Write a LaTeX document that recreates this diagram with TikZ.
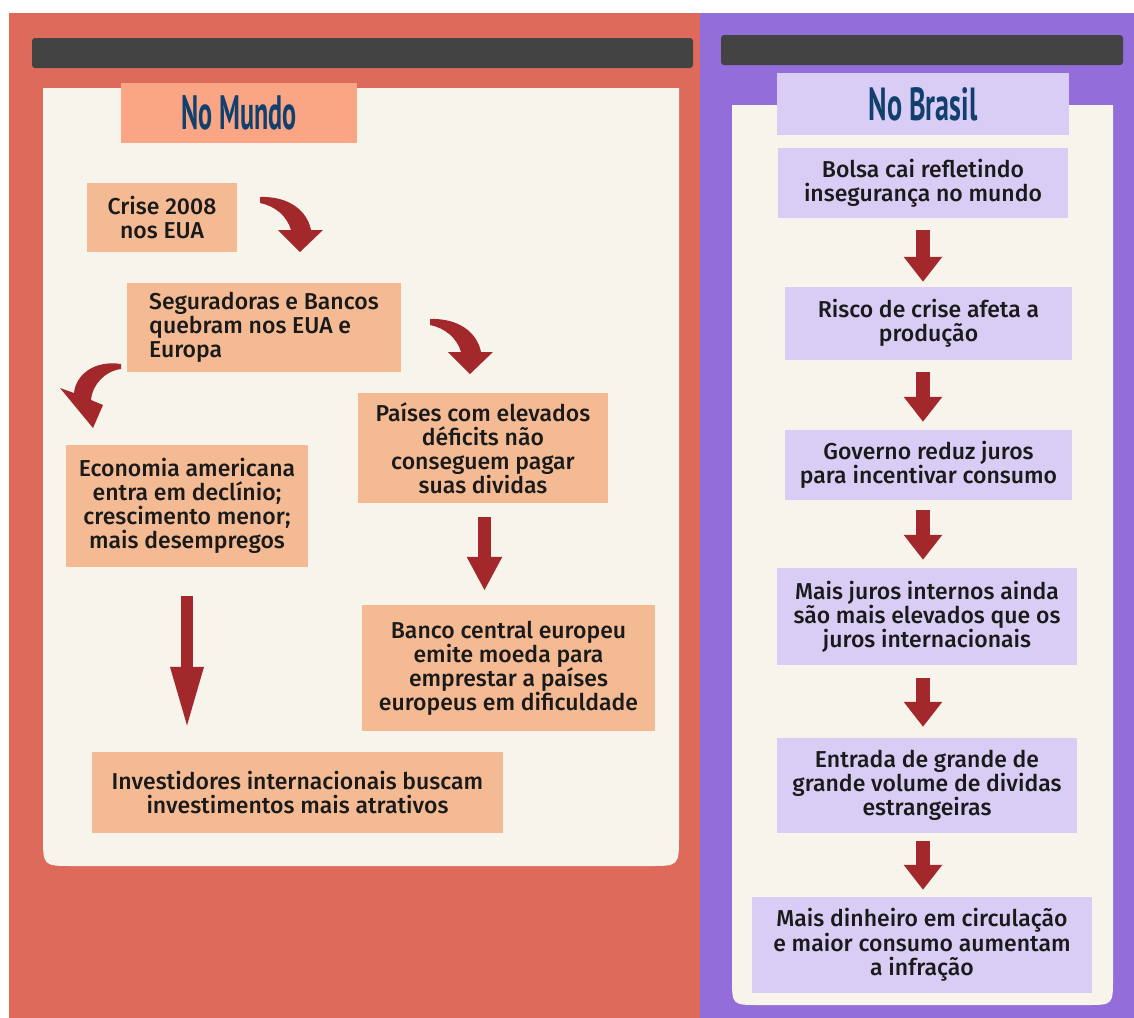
\documentclass[tikz,border=0pt]{standalone}
\usepackage{fontspec}
\usepackage{graphicx}
\setmainfont{Fira Sans}[UprightFont={* Medium}]
\newfontfamily\titlefont{PT Sans Bold}
\usetikzlibrary{arrows.meta}
\definecolor{redpanel}{HTML}{DE6A5C}
\definecolor{purplepanel}{HTML}{936EDA}
\definecolor{darkbar}{HTML}{434343}
\definecolor{cream}{HTML}{F7F4EC}
\definecolor{salmon}{HTML}{FAA685}
\definecolor{peach}{HTML}{F4BA93}
\definecolor{lav}{HTML}{DACDF5}
\definecolor{arrowred}{HTML}{A2282B}
\definecolor{navy}{HTML}{11406E}
\definecolor{textc}{HTML}{1A1A1A}
\newcommand{\bodyfont}{\fontsize{23bp}{24bp}\selectfont}
\tikzset{
  box/.style={rectangle, inner sep=0pt, align=center, font=\bodyfont, text=textc},
  lbox/.style={box, fill=peach},
  rbox/.style={box, fill=lav},
  flowarrow/.style={line width=14bp, draw=arrowred, -{Triangle[width=37bp,length=25bp]}},
  longarrow/.style={line width=12bp, draw=arrowred, -{Triangle[width=30bp,length=63bp]}},
  midarrow/.style={line width=13bp, draw=arrowred, -{Triangle[width=33bp,length=34bp]}},
  pics/curvearrow/.style={code={
    \fill[arrowred] (0,-3) .. controls (28,-4) and (47,10) .. (51,30) -- (63,30) -- (40,52) -- (18,30) -- (31,30) .. controls (27,16) and (15,6) .. (0,3) -- cycle;
  }}
}
\begin{document}
\begin{tikzpicture}[x=1bp,y=-1bp]
\useasboundingbox (0,0) rectangle (1134,1018);
\fill[white] (0,0) rectangle (1134,1018);
% panels
\fill[redpanel] (9,13) rectangle (700,1018);
\fill[purplepanel] (700,13) rectangle (1134,1018);
\fill[darkbar, rounded corners=3bp] (32,38) rectangle (693,68);
\fill[darkbar, rounded corners=3bp] (721,35) rectangle (1123,65);
\fill[cream] (43,88) -- (43,836) .. controls (43,866) .. (73,866) -- (649,866) .. controls (679,866) .. (679,836) -- (679,88) -- cycle;
\fill[cream] (732,105) -- (732,978) .. controls (732,1005) .. (759,1005) -- (1086,1005) .. controls (1113,1005) .. (1113,978) -- (1113,105) -- cycle;
% titles
\node[rectangle, fill=salmon, minimum width=236bp, minimum height=60bp, inner sep=0pt, text=navy] (tmundo) at (239,113) {\resizebox{115bp}{34bp}{\titlefont No Mundo}};
\node[rectangle, fill=lav, minimum width=292bp, minimum height=62bp, inner sep=0pt, text=navy] (tbrasil) at (923,104) {\resizebox{109bp}{33bp}{\titlefont No Brasil}};
% left boxes
\node[lbox, minimum width=150bp, minimum height=69bp] (crise) at (162,217.5) {Crise 2008\\nos EUA};
\node[lbox, minimum width=274bp, minimum height=89bp, align=left] (segur) at (264,327.5) {Seguradoras e Bancos\\quebram nos EUA e\\Europa};
\node[lbox, minimum width=242bp, minimum height=122bp] (econ) at (187,506) {Economia americana\\entra em declínio;\\crescimento menor;\\mais desempregos};
\node[lbox, minimum width=250bp, minimum height=110bp] (paises) at (483,448) {Países com elevados\\déficits não\\conseguem pagar\\suas dividas};
\node[lbox, minimum width=293bp, minimum height=126bp] (banco) at (508.5,668) {Banco central europeu\\emite moeda para\\emprestar a países\\europeus em dificuldade};
\node[lbox, minimum width=411bp, minimum height=81bp] (invest) at (297.5,792.5) {Investidores internacionais buscam\\investimentos mais atrativos};
% right boxes
\node[rbox, minimum width=290bp, minimum height=70bp] (b1) at (923,183) {Bolsa cai refletindo\\insegurança no mundo};
\node[rbox, minimum width=287bp, minimum height=73bp] (b2) at (928.5,323.5) {Risco de crise afeta a\\produção};
\node[rbox, minimum width=287bp, minimum height=70bp] (b3) at (928.5,465) {Governo reduz juros\\para incentivar consumo};
\node[rbox, minimum width=300bp, minimum height=97bp] (b4) at (927,616.5) {Mais juros internos ainda\\são mais elevados que os\\juros internacionais};
\node[rbox, minimum width=300bp, minimum height=95bp] (b5) at (927,785.5) {Entrada de grande de\\grande volume de dividas\\estrangeiras};
\node[rbox, minimum width=340bp, minimum height=96bp] (b6) at (922,945) {Mais dinheiro em circulação\\e maior consumo aumentam\\a infração};
% right arrows
\draw[flowarrow] ([yshift=-12bp]b1.south) -- ([yshift=5bp]b1.south |- b2.north);
\draw[flowarrow] ([yshift=-12bp]b2.south -| b1.south) -- ([yshift=8bp]b1.south |- b3.north);
\draw[flowarrow] ([yshift=-10bp]b3.south -| b1.south) -- ([yshift=8bp]b1.south |- b4.north);
\draw[flowarrow] ([yshift=-13bp]b4.south -| b1.south) -- ([yshift=11bp]b1.south |- b5.north);
\draw[flowarrow] ([yshift=-8bp]b5.south -| b1.south) -- ([yshift=7bp]b1.south |- b6.north);
% left straight arrows
\draw[longarrow] ([yshift=-29bp]econ.south) -- ([yshift=22bp]econ.south |- invest.north);
\draw[midarrow] ([xshift=1.5bp,yshift=-14bp]paises.south) -- ([xshift=1.5bp,yshift=14bp]paises.south |- banco.north);
% curved arrows
\pic at (260,200) {curvearrow};
\pic at (430,322) {curvearrow};
\fill[arrowred] (121,364) .. controls (95,360) and (76,374) .. (74,393) -- (60,388) -- (93,428) -- (103,405) -- (91,400) .. controls (92,385) and (105,371) .. (121,369) -- cycle;
\end{tikzpicture}
\end{document}
